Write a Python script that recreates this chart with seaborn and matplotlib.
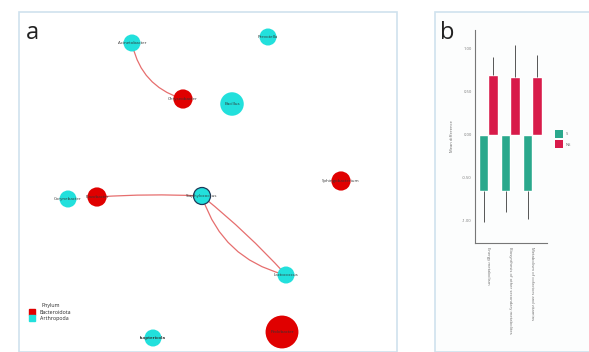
import matplotlib
matplotlib.use("Agg")
import matplotlib.pyplot as plt
from matplotlib.patches import Rectangle, FancyArrowPatch, Patch
from matplotlib.lines import Line2D
import seaborn as sns
import pandas as pd

sns.set_theme(style="white")
plt.rcParams["font.family"] = ["Open Sans", "DejaVu Sans"]

# ---- network (panel a) ----
node_names = ["Acinetobacter", "Prevotella", "Chryseobacter", "Bacillus",
              "Sphingobacterium", "Corynebacter", "Flavobacter", "Staphylococcus",
              "Lactococcus", "Isoptericola", "Pedobacter"]
node_x = [132, 268, 183, 232, 341, 68, 97, 202, 286, 153, 282]
node_y = [43, 37, 99, 104, 181, 199, 197, 196, 275, 338, 332]
node_phylum = ["Arthropoda", "Arthropoda", "Bacteroidota", "Arthropoda",
               "Bacteroidota", "Arthropoda", "Bacteroidota", "Arthropoda",
               "Arthropoda", "Arthropoda", "Bacteroidota"]
node_weight = [1.0, 1.0, 1.3, 2.0, 1.3, 1.0, 1.3, 1.0, 1.0, 1.0, 4.0]
edge_source = [0, 6, 7, 7]
edge_target = [2, 7, 8, 8]
edge_bend = [0.3, -0.03, -0.04, 0.28]

phylum_colors = {"Bacteroidota": "#e00000", "Arthropoda": "#22e0dc"}

# ---- bar chart (panel b) ----
pathways = ["Energy metabolism",
            "Biosynthesis of other secondary metabolites",
            "Metabolism of cofactors and vitamins"]
group_s = [-0.66, -0.66, -0.66]
group_ns = [0.70, 0.67, 0.67]
err_s = [0.35, 0.24, 0.32]
err_ns = [0.21, 0.38, 0.26]
group_names = ["S", "NS"]
bar_colors = ["#2aa88c", "#d81b4a"]

W, H = 589, 352
fig = plt.figure(figsize=(W / 100, H / 100), dpi=100)
fig.patch.set_facecolor("white")

# panel frames
frame_col = "#cfe2ee"
fig.patches.append(Rectangle((19 / W, 0), (397 - 19) / W, (H - 12) / H,
                             transform=fig.transFigure, fill=False,
                             ec=frame_col, lw=1.2))
fig.patches.append(Rectangle((435 / W, 0), (W - 435) / W + 0.01, (H - 12) / H,
                             transform=fig.transFigure, fc="#fcfdfd",
                             ec=frame_col, lw=1.2, zorder=-1))

# ---- panel a ----
axa = fig.add_axes([19 / W, 0, (397 - 19) / W, (H - 12) / H])
axa.set_xlim(19, 397)
axa.set_ylim(352, 12)
axa.axis("off")

for s, t, r in zip(edge_source, edge_target, edge_bend):
    arr = FancyArrowPatch((node_x[s], node_y[s]), (node_x[t], node_y[t]),
                          connectionstyle=f"arc3,rad={r}", arrowstyle="-",
                          color="#e25555", lw=0.9, alpha=0.85, zorder=1)
    axa.add_patch(arr)

nodes = pd.DataFrame({"name": node_names, "x": node_x, "y": node_y,
                      "Phylum": node_phylum, "w": node_weight})
sns.scatterplot(data=nodes, x="x", y="y", hue="Phylum", size="w",
                sizes=(150, 560), size_norm=(1, 4), palette=phylum_colors,
                edgecolor="none", legend=False, ax=axa, zorder=2)
# highlighted hub node
axa.scatter([node_x[7]], [node_y[7]], s=150, facecolor="none",
            edgecolor="#1d3a5a", lw=0.9, zorder=3)
for n, x, y in zip(node_names, node_x, node_y):
    bold = n == "Isoptericola"
    axa.text(x, y, n, fontsize=3.2, ha="center", va="center",
             color="#333333", fontweight="bold" if bold else "normal", zorder=4)

axa.text(32, 33, "a", fontsize=17, ha="center", va="center", color="#222222")

handles = [Line2D([], [], marker="s", ls="", color=phylum_colors[p], markersize=4)
           for p in ["Bacteroidota", "Arthropoda"]]
axa.legend(handles, ["Bacteroidota", "Arthropoda"], title="Phylum",
           loc="lower left", bbox_to_anchor=(0.02, 0.08), frameon=False,
           fontsize=3.8, title_fontsize=3.8, handletextpad=1.0,
           labelspacing=0.3, borderpad=0.2, handlelength=0.8)

fig.text(447 / W, 1 - 33 / H, "b", fontsize=17, ha="center", va="center",
         color="#222222")

# ---- panel b ----
axb = fig.add_axes([475 / W, 1 - 243 / H, 72 / W, 213 / H])
rows = []
for i, p in enumerate(pathways):
    rows.append({"pathway": p, "group": group_names[0], "value": group_s[i]})
    rows.append({"pathway": p, "group": group_names[1], "value": group_ns[i]})
bars = pd.DataFrame(rows)
sns.barplot(data=bars, x="pathway", y="value", hue="group", order=pathways,
            hue_order=group_names, palette=bar_colors, width=0.86,
            errorbar=None, saturation=1, legend=False, ax=axb)

off = 0.215
xs = range(len(pathways))
axb.errorbar([x - off for x in xs], group_s, yerr=[err_s, [0] * 3],
             fmt="none", ecolor="#555555", elinewidth=0.7, capsize=0)
axb.errorbar([x + off for x in xs], group_ns, yerr=[[0] * 3, err_ns],
             fmt="none", ecolor="#555555", elinewidth=0.7, capsize=0)

axb.set_xlim(-0.61, 2.66)
axb.set_ylim(-1.26, 1.22)
axb.set_yticks([-1.0, -0.5, 0.0, 0.5, 1.0])
axb.set_yticklabels(["-1.00", "-0.50", "0.00", "0.50", "1.00"])
axb.tick_params(axis="y", labelsize=3, length=1.5, width=0.5, pad=1,
                colors="#777777")
axb.tick_params(axis="x", labelsize=3, length=0, pad=3, colors="#777777")
axb.set_xticks(list(xs))
axb.set_xticklabels(pathways, rotation=-90, ha="center", va="top",
                    color="#666666")
axb.set_xlabel("")
axb.set_ylabel("Mean difference", fontsize=3, color="#666666", labelpad=6)
axb.set_facecolor("none")
for side in ["top", "right"]:
    axb.spines[side].set_visible(False)
for side in ["left", "bottom"]:
    axb.spines[side].set_color("#777777")
    axb.spines[side].set_linewidth(0.8)

leg_handles = [Patch(facecolor=c, edgecolor="none") for c in bar_colors]
fig.legend(leg_handles, group_names, loc="center left",
           bbox_to_anchor=(552 / W, 1 - 139 / H), frameon=False, fontsize=3,
           handlelength=2.0, handleheight=2.6, handletextpad=0.6,
           labelspacing=0.6, labelcolor="#666666", borderpad=0.1)

fig.savefig("out.png", dpi=100)
